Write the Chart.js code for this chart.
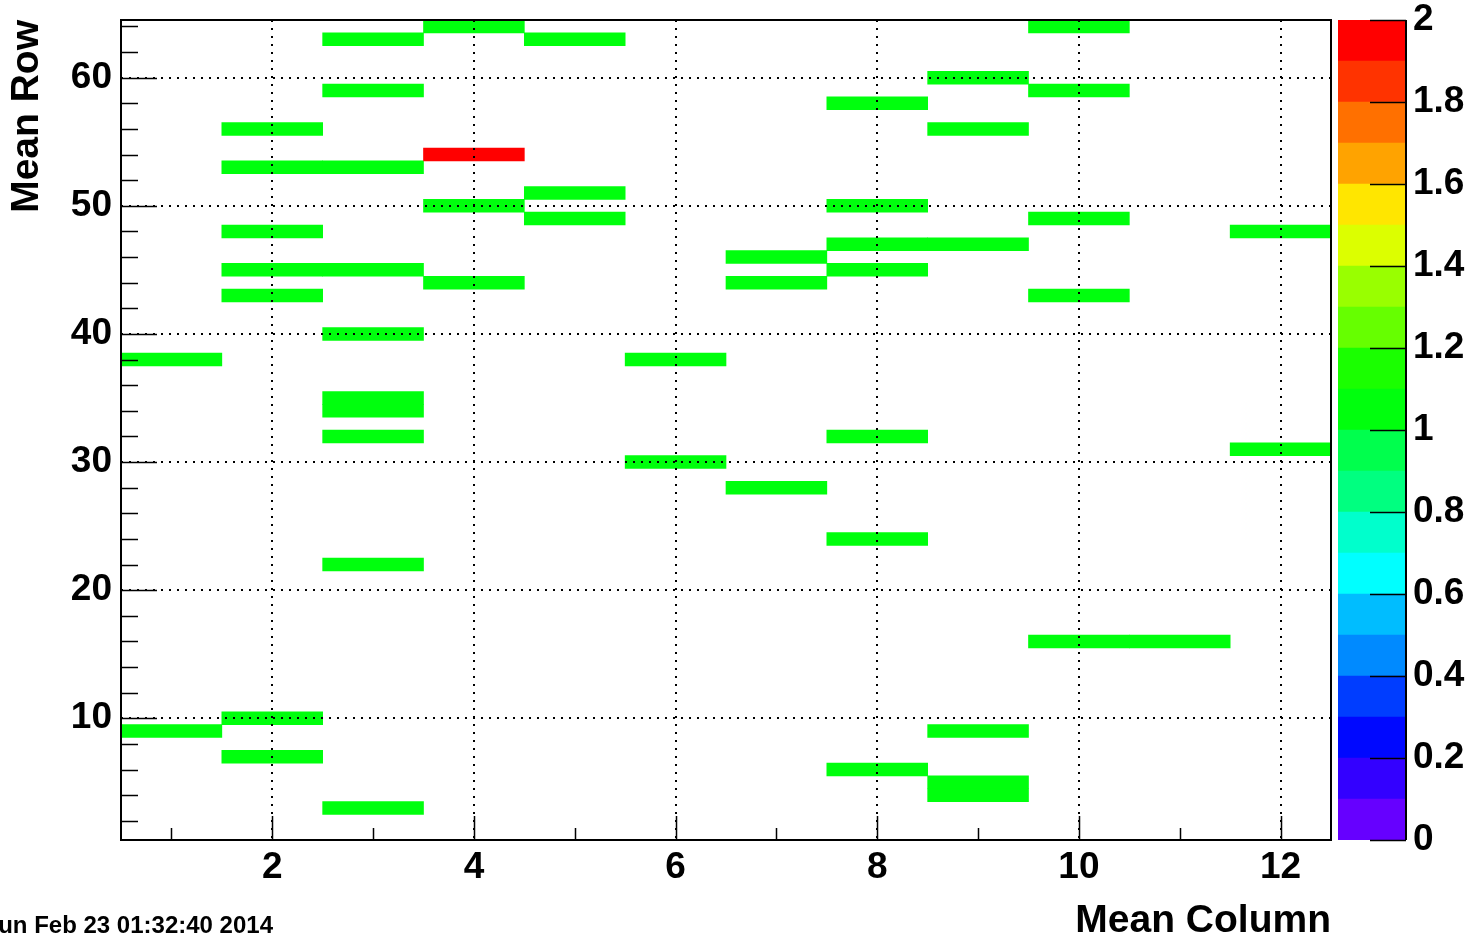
<!DOCTYPE html>
<html><head><meta charset="utf-8">
<script src="https://cdn.jsdelivr.net/npm/chart.js@4.4.1/dist/chart.umd.min.js"></script>
<style>
html,body{margin:0;padding:0;background:#fff;overflow:hidden;}
#wrap{position:relative;width:1474px;height:938px;overflow:hidden;}
canvas{position:absolute;left:0;top:0;}
#date{position:absolute;right:1201px;top:913px;font:bold 24px "Liberation Sans",Arial,sans-serif;line-height:24px;white-space:nowrap;color:#000;}
</style></head><body>
<div id="wrap">
<canvas id="main" width="1474" height="938"></canvas>
<canvas id="cbar" width="1474" height="938"></canvas>
<div id="date">Sun Feb 23 01:32:40 2014</div>
</div>
<script>
// ---- data ----
const cellColumn = [1,1, 2,2,2,2,2,2,2, 3,3,3,3,3,3,3,3,3,3, 4,4,4,4, 5,5,5, 6,6, 7,7,7, 8,8,8,8,8,8,8, 9,9,9,9,9,9, 10,10,10,10,10, 11, 12,12];
const cellRow    = [38,9, 56,53,48,45,43,10,7, 63,59,53,45,40,35,34,32,22,3, 64,54,50,44, 63,51,49, 38,30, 46,44,28, 58,50,47,45,32,24,6, 60,56,47,9,5,4, 64,59,49,43,16, 16, 48,31];
const cellValue  = [1,1, 1,1,1,1,1,1,1, 1,1,1,1,1,1,1,1,1,1, 1,2,1,1, 1,1,1, 1,1, 1,1,1, 1,1,1,1,1,1,1, 1,1,1,1,1,1, 1,1,1,1,1, 1, 1,1];

const xTickValues = [2,4,6,8,10,12];
const yTickValues = [10,20,30,40,50,60];
const xMinorTicks = [1,2,3,4,5,6,7,8,9,10,11,12];
const yMinorTicks = [2,4,6,8,10,12,14,16,18,20,22,24,26,28,30,32,34,36,38,40,42,44,46,48,50,52,54,56,58,60,62,64];

const contourLevels = [0,0.1,0.2,0.3,0.4,0.5,0.6,0.7,0.8,0.9,1.0,1.1,1.2,1.3,1.4,1.5,1.6,1.7,1.8,1.9,2.0];
const paletteColors = ['rgb(102,0,255)','rgb(51,0,255)','rgb(0,8,255)','rgb(0,61,255)','rgb(0,138,255)',
  'rgb(0,189,255)','rgb(0,255,255)','rgb(0,255,204)','rgb(0,255,128)','rgb(0,255,77)',
  'rgb(0,255,13)','rgb(26,255,0)','rgb(102,255,0)','rgb(153,255,0)','rgb(220,255,0)',
  'rgb(255,230,0)','rgb(255,163,0)','rgb(255,112,0)','rgb(255,51,0)','rgb(255,0,0)'];
const zTickValues = [0,0.2,0.4,0.6,0.8,1,1.2,1.4,1.6,1.8,2];
const zTickLabels = ['0','0.2','0.4','0.6','0.8','1','1.2','1.4','1.6','1.8','2'];

const FONT = '"Liberation Sans", Arial, Helvetica, sans-serif';

function colorFor(v){
  let idx = paletteColors.length - 1;
  for (let i = 0; i < contourLevels.length - 1; i++) {
    if (v < contourLevels[i+1] - 1e-9) { idx = i; break; }
  }
  return paletteColors[Math.max(0, idx)];
}

// ---- main plot ----
const framePlugin = {
  id: 'rootFrame',
  afterDraw(chart){
    const {ctx, chartArea:{left,right,top,bottom}, scales:{x,y}} = chart;
    ctx.save();
    ctx.strokeStyle = '#000';
    ctx.lineWidth = 1.5;
    ctx.beginPath();
    xMinorTicks.forEach(v => {
      const px = Math.round(x.getPixelForValue(v)) + 0.5;
      const len = xTickValues.includes(v) ? 24 : 12;
      ctx.moveTo(px, bottom); ctx.lineTo(px, bottom - len);
    });
    yMinorTicks.forEach(v => {
      const py = Math.round(y.getPixelForValue(v)) + 0.5;
      const len = yTickValues.includes(v) ? 36 : 17;
      ctx.moveTo(left, py); ctx.lineTo(left + len, py);
    });
    ctx.stroke();
    ctx.lineWidth = 2;
    ctx.strokeRect(left, top, right - left, bottom - top);
    ctx.restore();
  }
};

new Chart(document.getElementById('main'), {
  type: 'bar',
  data: {
    datasets: [{
      data: cellColumn.map((c, i) => ({x: c, y: [cellRow[i] - 0.5, cellRow[i] + 0.5]})),
      backgroundColor: cellValue.map(colorFor),
      borderWidth: 0,
      barPercentage: 1,
      categoryPercentage: 1
    }]
  },
  options: {
    responsive: false,
    devicePixelRatio: 1,
    animation: false,
    layout: {padding: {left: 0, right: 143, top: 20, bottom: 0}},
    plugins: {legend: {display: false}, tooltip: {enabled: false}},
    scales: {
      x: {
        type: 'linear', min: 0.5, max: 12.5, bounds: 'data', offset: false,
        afterBuildTicks: s => { s.ticks = xTickValues.map(v => ({value: v})); },
        afterFit: s => { s.height = 98; s.paddingLeft = 0; s.paddingRight = 0; },
        grid: {display: true, drawOnChartArea: true, drawTicks: false, color: '#000', lineWidth: 2, offset: false, z: 1},
        border: {display: false, dash: [2, 6]},
        ticks: {font: {family: FONT, size: 37, weight: 'bold', lineHeight: 1.2}, color: '#000', padding: 6, maxRotation: 0, autoSkip: false},
        title: {display: true, text: 'Mean Column', align: 'end', color: '#000', padding: {top: 0, bottom: -3},
                font: {family: FONT, size: 39, weight: 'bold', lineHeight: 1}}
      },
      y: {
        type: 'linear', min: 0.5, max: 64.5, bounds: 'data',
        afterBuildTicks: s => { s.ticks = yTickValues.map(v => ({value: v})); },
        afterFit: s => { s.width = 121; s.paddingTop = 0; s.paddingBottom = 0; },
        grid: {display: true, drawOnChartArea: true, drawTicks: false, color: '#000', lineWidth: 2, z: 1},
        border: {display: false, dash: [2, 6]},
        ticks: {font: {family: FONT, size: 37, weight: 'bold', lineHeight: 1.2}, color: '#000', padding: 9, autoSkip: false},
        title: {display: true, text: 'Mean Row', align: 'end', color: '#000', padding: {top: 8, bottom: 0},
                font: {family: FONT, size: 39, weight: 'bold', lineHeight: 1}}
      }
    }
  },
  plugins: [framePlugin]
});

// ---- colour bar ----
const cbarPlugin = {
  id: 'cbarTicks',
  afterDraw(chart){
    const {ctx, chartArea:{right,top,bottom}, scales:{y}} = chart;
    ctx.save();
    ctx.strokeStyle = '#000';
    ctx.lineWidth = 1.5;
    ctx.beginPath();
    zTickValues.forEach(v => {
      const py = Math.round(y.getPixelForValue(v)) + 0.5;
      ctx.moveTo(right - 36, py); ctx.lineTo(right, py);
    });
    ctx.stroke();
    ctx.lineWidth = 2;
    ctx.beginPath();
    ctx.moveTo(right, top); ctx.lineTo(right, bottom);
    ctx.stroke();
    ctx.restore();
  }
};

new Chart(document.getElementById('cbar'), {
  type: 'bar',
  data: {
    labels: [''],
    datasets: paletteColors.map((c, i) => ({
      data: [[contourLevels[i], contourLevels[i+1]]],
      backgroundColor: c,
      borderWidth: 0,
      barPercentage: 1,
      categoryPercentage: 1,
      grouped: false
    }))
  },
  options: {
    responsive: false,
    devicePixelRatio: 1,
    animation: false,
    layout: {padding: {left: 1338, right: 0, top: 20, bottom: 98}},
    plugins: {legend: {display: false}, tooltip: {enabled: false}},
    scales: {
      x: {display: false},
      y: {
        type: 'linear', position: 'right', min: 0, max: 2, bounds: 'data',
        afterBuildTicks: s => { s.ticks = zTickValues.map(v => ({value: v})); },
        afterFit: s => { s.width = 68; s.paddingTop = 0; s.paddingBottom = 0; },
        grid: {display: false, drawTicks: false},
        border: {display: false},
        ticks: {font: {family: FONT, size: 37, weight: 'bold', lineHeight: 1.2}, color: '#000', padding: 7, autoSkip: false,
                callback: (v, i) => zTickLabels[i]}
      }
    }
  },
  plugins: [cbarPlugin]
});
</script>
</body></html>
